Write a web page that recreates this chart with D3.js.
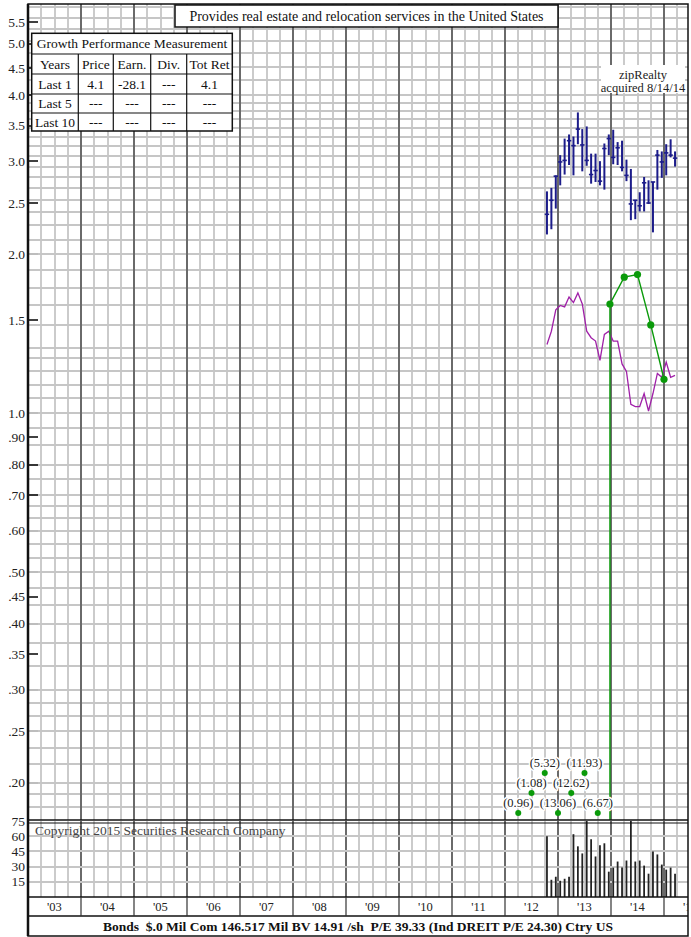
<!DOCTYPE html>
<html><head><meta charset="utf-8">
<script src="https://cdn.jsdelivr.net/npm/d3@7"></script>
<style>body{margin:0;background:#fff}svg text{font-family:"Liberation Serif","Times New Roman",serif}</style>
</head><body><svg id="c" width="691" height="937"></svg>
<script>
// ---------------- data ----------------
const months = ["2012-10","2012-11","2012-12","2013-01","2013-02","2013-03","2013-04","2013-05","2013-06","2013-07","2013-08","2013-09","2013-10","2013-11","2013-12","2014-01","2014-02","2014-03","2014-04","2014-05","2014-06","2014-07","2014-08","2014-09","2014-10","2014-11","2014-12","2015-01","2015-02","2015-03"];
const high  = [2.63,2.67,2.82,3.08,3.31,3.37,3.34,3.71,3.45,3.49,3.10,3.10,3.00,3.24,3.37,3.44,3.26,3.28,3.02,2.90,2.53,2.62,2.80,2.76,2.74,3.15,3.13,3.23,3.30,3.13];
const low   = [2.18,2.23,2.44,2.70,2.83,2.95,2.82,3.23,2.87,2.94,2.72,2.74,2.70,2.65,3.08,2.96,2.95,2.87,2.75,2.32,2.33,2.41,2.41,2.49,2.20,2.65,2.79,2.82,3.05,2.93];
const close = [2.38,2.53,2.81,2.99,3.01,3.28,3.21,3.45,3.22,3.01,2.83,2.88,2.75,3.17,3.31,3.05,3.18,2.92,2.82,2.49,2.53,2.47,2.73,2.50,2.74,3.08,2.99,3.11,3.08,3.04];
const volume = [60,17,20,16,18,20,62,50,43,82,57,40,51,53,25,29,35,29,36,90,35,36,31,23,45,42,32,27,29,23];
const relStrength = [1.35,1.43,1.57,1.60,1.59,1.66,1.62,1.69,1.61,1.43,1.39,1.37,1.26,1.41,1.43,1.37,1.37,1.24,1.20,1.04,1.03,1.03,1.09,1.01,1.09,1.19,1.17,1.25,1.17,1.18];
const earnDates = [2013.98,2014.25,2014.5,2014.75,2015.0];
const earnValues = [1.61,1.81,1.83,1.47,1.16];
const lossDates = [2012.25,2012.5,2012.75,2013.0,2013.25,2013.5,2013.75];
const lossLabels = ["(0.96)","(1.08)","(5.32)","(13.06)","(12.62)","(11.93)","(6.67)"];
const priceTicks = [5.5,5.0,4.5,4.0,3.5,3.0,2.5,2.0,1.5,1.0,0.9,0.8,0.7,0.6,0.5,0.45,0.4,0.35,0.3,0.25,0.2];
const priceTickLabels = ["5.5","5.0","4.5","4.0","3.5","3.0","2.5","2.0","1.5","1.0",".90",".80",".70",".60",".50",".45",".40",".35",".30",".25",".20"];
const darkTicks = [5.5,5.0,4.5,4.0,3.5,3.0,2.5,1.5,0.9,0.8,0.7,0.45,0.35];
const gridValues = [5.87,5.6,5.33,5.07,4.8,4.53,4.27,4.0,3.87,3.73,3.6,3.47,3.33,3.2,3.07,2.93,2.8,2.67,2.53,2.4,2.27,2.13,2.0,1.87,1.73,1.6,1.47,1.33,1.27,1.2,1.13,1.07,1.0,0.94,0.87,0.8,0.75,0.7,0.667,0.633,0.6,0.567,0.533,0.5,0.467,0.433,0.4,0.367,0.333,0.3,0.283,0.267,0.25,0.233,0.217,0.2,0.19,0.18];
const volTicks = [75,60,45,30,15];
const yearLabels = ["'03","'04","'05","'06","'07","'08","'09","'10","'11","'12","'13","'14","'15"];
const tableTitle = "Growth Performance Measurement";
const tableHeader = ["Years","Price","Earn.","Div.","Tot Ret"];
const tableRows = [["Last 1","4.1","-28.1","---","4.1"],["Last 5","---","---","---","---"],["Last 10","---","---","---","---"]];
const titleText = "Provides real estate and relocation services in the United States";
const noteLines = ["zipRealty","acquired 8/14/14"];
const copyright = "Copyright 2015 Securities Research Company";
const footer = "Bonds  $.0 Mil Com 146.517 Mil BV 14.91 /sh  P/E 39.33 (Ind DREIT P/E 24.30) Ctry US";

// ---------------- layout ----------------
const L = 28, R = 688, T = 4, PB = 820, VT = 821, VB = 897, XB = 916, FB = 936;
const svg = d3.select("#c");
const x = d3.scaleLinear().domain([2003, 2003 + (R - L) / 53]).range([L, R]);
const y = d3.scaleLog().domain([0.170, 5.95]).range([PB, T]);
const yv = d3.scaleLinear().domain([0, 75]).range([VB, VT]);
const mx = m => { const [yy, mm] = m.split("-").map(Number); return x(yy + (mm - 0.5) / 12); };

const defs = svg.append("defs");
defs.append("clipPath").attr("id","pc").append("rect").attr("x",L).attr("y",T).attr("width",R-L).attr("height",PB-T);
defs.append("clipPath").attr("id","vc").append("rect").attr("x",L).attr("y",VT).attr("width",R-L).attr("height",VB-VT);
defs.append("clipPath").attr("id","ac").append("rect").attr("x",L).attr("y",0).attr("width",R-L).attr("height",937);

const GRID = "#c6c6c6", GW = 1.8, YEAR = "#6a6a6a";
// grid: horizontal price
svg.append("g").selectAll("line").data(gridValues.filter(v=>y(v)>T+1 && y(v)<PB-1)).join("line")
  .attr("x1",L).attr("x2",R).attr("y1",d=>Math.round(y(d))).attr("y2",d=>Math.round(y(d)))
  .attr("stroke",GRID).attr("stroke-width",GW);
// vertical quarter + year lines (price & volume)
const quarters = d3.range(2003.25, 2015.5, 0.25).filter(q=>Math.abs(q-Math.round(q))>0.01 && x(q)<R);
[[T,PB],[VT,VB]].forEach(([y1,y2])=>{
  const gg = svg.append("g");
  gg.selectAll("line").data(quarters).join("line")
    .attr("x1",d=>Math.round(x(d))).attr("x2",d=>Math.round(x(d))).attr("y1",y1).attr("y2",y2)
    .attr("stroke",GRID).attr("stroke-width",GW);
  gg.selectAll("line.yr").data(d3.range(2004,2016)).join("line").attr("class","yr")
    .attr("x1",d=>Math.round(x(d))).attr("x2",d=>Math.round(x(d))).attr("y1",y1).attr("y2",y2)
    .attr("stroke",YEAR).attr("stroke-width",2);
});
// volume horizontal grid
svg.append("g").selectAll("line").data(volTicks.slice(1)).join("line")
  .attr("x1",L).attr("x2",R).attr("y1",d=>Math.round(yv(d))).attr("y2",d=>Math.round(yv(d)))
  .attr("stroke",GRID).attr("stroke-width",GW);

// price ticks & labels
const ax = svg.append("g");
ax.selectAll("line").data(priceTicks).join("line")
  .attr("x1",L).attr("x2",L+10).attr("y1",d=>Math.round(y(d))).attr("y2",d=>Math.round(y(d)))
  .attr("stroke",d=>darkTicks.includes(d)?"#111":"#bbb").attr("stroke-width",1.6);
ax.selectAll("text").data(priceTicks).join("text")
  .attr("x",L-3).attr("y",d=>y(d)+4.5).attr("text-anchor","end")
  .attr("font-size",13.5).attr("fill","#222").text((d,i)=>priceTickLabels[i]);
// volume tick labels
svg.append("g").selectAll("text").data(volTicks).join("text")
  .attr("x",L-3).attr("y",d=>yv(d)+4.5).attr("text-anchor","end")
  .attr("font-size",13.5).attr("fill","#222").text(d=>d);

// title box
svg.append("rect").attr("x",175).attr("y",T+1).attr("width",383).attr("height",22).attr("fill","#fff").attr("stroke","#111").attr("stroke-width",1.5);
svg.append("text").attr("x",366.5).attr("y",T+17).attr("text-anchor","middle").attr("font-size",14).attr("fill","#111").text(titleText);

// table
const colX = [31.7,78.3,113.3,150.7,186.7,232.3];
const rowY = [33.3,54,74,94,113,131];
const tb = svg.append("g");
tb.append("rect").attr("x",colX[0]).attr("y",rowY[0]).attr("width",colX[5]-colX[0]).attr("height",rowY[5]-rowY[0]).attr("fill","#fff").attr("stroke","#111").attr("stroke-width",1.5);
tb.selectAll("line.r").data(rowY.slice(1,5)).join("line").attr("class","r")
  .attr("x1",colX[0]).attr("x2",colX[5]).attr("y1",d=>d).attr("y2",d=>d).attr("stroke","#111").attr("stroke-width",1.2);
tb.selectAll("line.c").data(colX.slice(1,5)).join("line").attr("class","c")
  .attr("x1",d=>d).attr("x2",d=>d).attr("y1",rowY[1]).attr("y2",rowY[5]).attr("stroke","#111").attr("stroke-width",1.2);
tb.append("text").attr("x",(colX[0]+colX[5])/2).attr("y",rowY[0]+15).attr("text-anchor","middle").attr("font-size",13.5).attr("fill","#111").text(tableTitle);
[tableHeader,...tableRows].forEach((row,ri)=>{
  tb.selectAll(null).data(row).join("text")
    .attr("x",(d,ci)=>(colX[ci]+colX[ci+1])/2).attr("y",(rowY[ri+1]+rowY[ri+2])/2+4.5)
    .attr("text-anchor","middle").attr("font-size",13.5).attr("fill","#111").text(d=>d);
});

// note
const nt = svg.append("g");
nt.append("rect").attr("x",601).attr("y",65).attr("width",84).attr("height",28).attr("fill","#fff");
nt.selectAll("text").data(noteLines).join("text").attr("x",643).attr("y",(d,i)=>79+i*13).attr("text-anchor","middle").attr("font-size",12.5).attr("fill","#222").text(d=>d);

// price bars
const pb = svg.append("g").attr("clip-path","url(#pc)");
pb.selectAll("line.hl").data(months).join("line").attr("class","hl")
  .attr("x1",d=>mx(d)).attr("x2",d=>mx(d)).attr("y1",(d,i)=>y(high[i])).attr("y2",(d,i)=>y(low[i]))
  .attr("stroke","#1c1c8a").attr("stroke-width",2);
pb.selectAll("line.cl").data(months).join("line").attr("class","cl")
  .attr("x1",d=>mx(d)-2.2).attr("x2",d=>mx(d)+2.2).attr("y1",(d,i)=>y(close[i])).attr("y2",(d,i)=>y(close[i]))
  .attr("stroke","#1c1c8a").attr("stroke-width",1.6);

// relative strength line
pb.append("path").datum(relStrength).attr("fill","none").attr("stroke","#a020a8").attr("stroke-width",1.3)
  .attr("d",d3.line().x((d,i)=>mx(months[i])).y(d=>y(d)));

// losses at bottom (labels on white)
const lg = svg.append("g");
lg.selectAll("text").data(lossDates).join("text")
  .attr("x",d=>x(d)).attr("y",(d,i)=>PB-13-20*(i%3)).attr("text-anchor","middle")
  .attr("font-size",12.5).attr("fill","#222").attr("stroke","#fff").attr("stroke-width",3)
  .attr("paint-order","stroke").attr("stroke-linejoin","round").text((d,i)=>lossLabels[i]);
lg.selectAll("circle").data(lossDates).join("circle")
  .attr("cx",d=>x(d)).attr("cy",(d,i)=>PB-7-20*(i%3)).attr("r",3).attr("fill","#0a9a0a");

// earnings line (drops from off-chart loss)
const eLine = [[earnDates[0],0.05],...earnDates.map((d,i)=>[d,earnValues[i]])];
pb.append("path").datum(eLine).attr("fill","none").attr("stroke","#0a9a0a").attr("stroke-width",1.4)
  .attr("d",d3.line().x(d=>x(d[0])).y(d=>y(d[1])));
pb.selectAll("circle.e").data(earnDates).join("circle").attr("class","e")
  .attr("cx",d=>x(d)).attr("cy",(d,i)=>y(earnValues[i])).attr("r",3.6).attr("fill","#0a9a0a");

// volume bars
svg.append("g").attr("clip-path","url(#vc)").selectAll("line").data(months).join("line")
  .attr("x1",d=>mx(d)).attr("x2",d=>mx(d)).attr("y1",VB).attr("y2",(d,i)=>yv(volume[i]))
  .attr("stroke","#222").attr("stroke-width",1.8);
svg.append("text").attr("x",35).attr("y",VT+14).attr("font-size",13.5).attr("fill","#444").text(copyright);

// frames
const fr = svg.append("g").attr("fill","none").attr("stroke","#111");
fr.append("rect").attr("x",L).attr("y",T).attr("width",R-L).attr("height",FB-T).attr("stroke-width",1.5);
fr.append("line").attr("x1",L).attr("x2",L).attr("y1",T).attr("y2",FB).attr("stroke-width",2.5);
fr.append("line").attr("x1",L).attr("x2",R).attr("y1",PB).attr("y2",PB).attr("stroke-width",1.5);
fr.append("line").attr("x1",L).attr("x2",R).attr("y1",PB+3).attr("y2",PB+3).attr("stroke-width",1.2);
fr.append("line").attr("x1",L).attr("x2",R).attr("y1",VB).attr("y2",VB).attr("stroke-width",1.5);
fr.append("line").attr("x1",L).attr("x2",R).attr("y1",XB).attr("y2",XB).attr("stroke-width",1.5);
// x labels
const xl = svg.append("g").attr("clip-path","url(#ac)");
xl.selectAll("line").data(d3.range(2004,2016)).join("line")
  .attr("x1",d=>Math.round(x(d))).attr("x2",d=>Math.round(x(d))).attr("y1",VB).attr("y2",XB).attr("stroke","#333").attr("stroke-width",1.2);
xl.selectAll("text").data(yearLabels).join("text")
  .attr("x",(d,i)=>x(2003.5+i)).attr("y",VB+14).attr("text-anchor","middle").attr("font-size",12.5).attr("fill","#222").text(d=>d);
svg.append("text").attr("x",(L+R)/2).attr("y",XB+15).attr("text-anchor","middle").attr("font-size",13.5).attr("font-weight","bold").attr("fill","#111")
  .style("white-space","pre").text(footer);
</script></body></html>
